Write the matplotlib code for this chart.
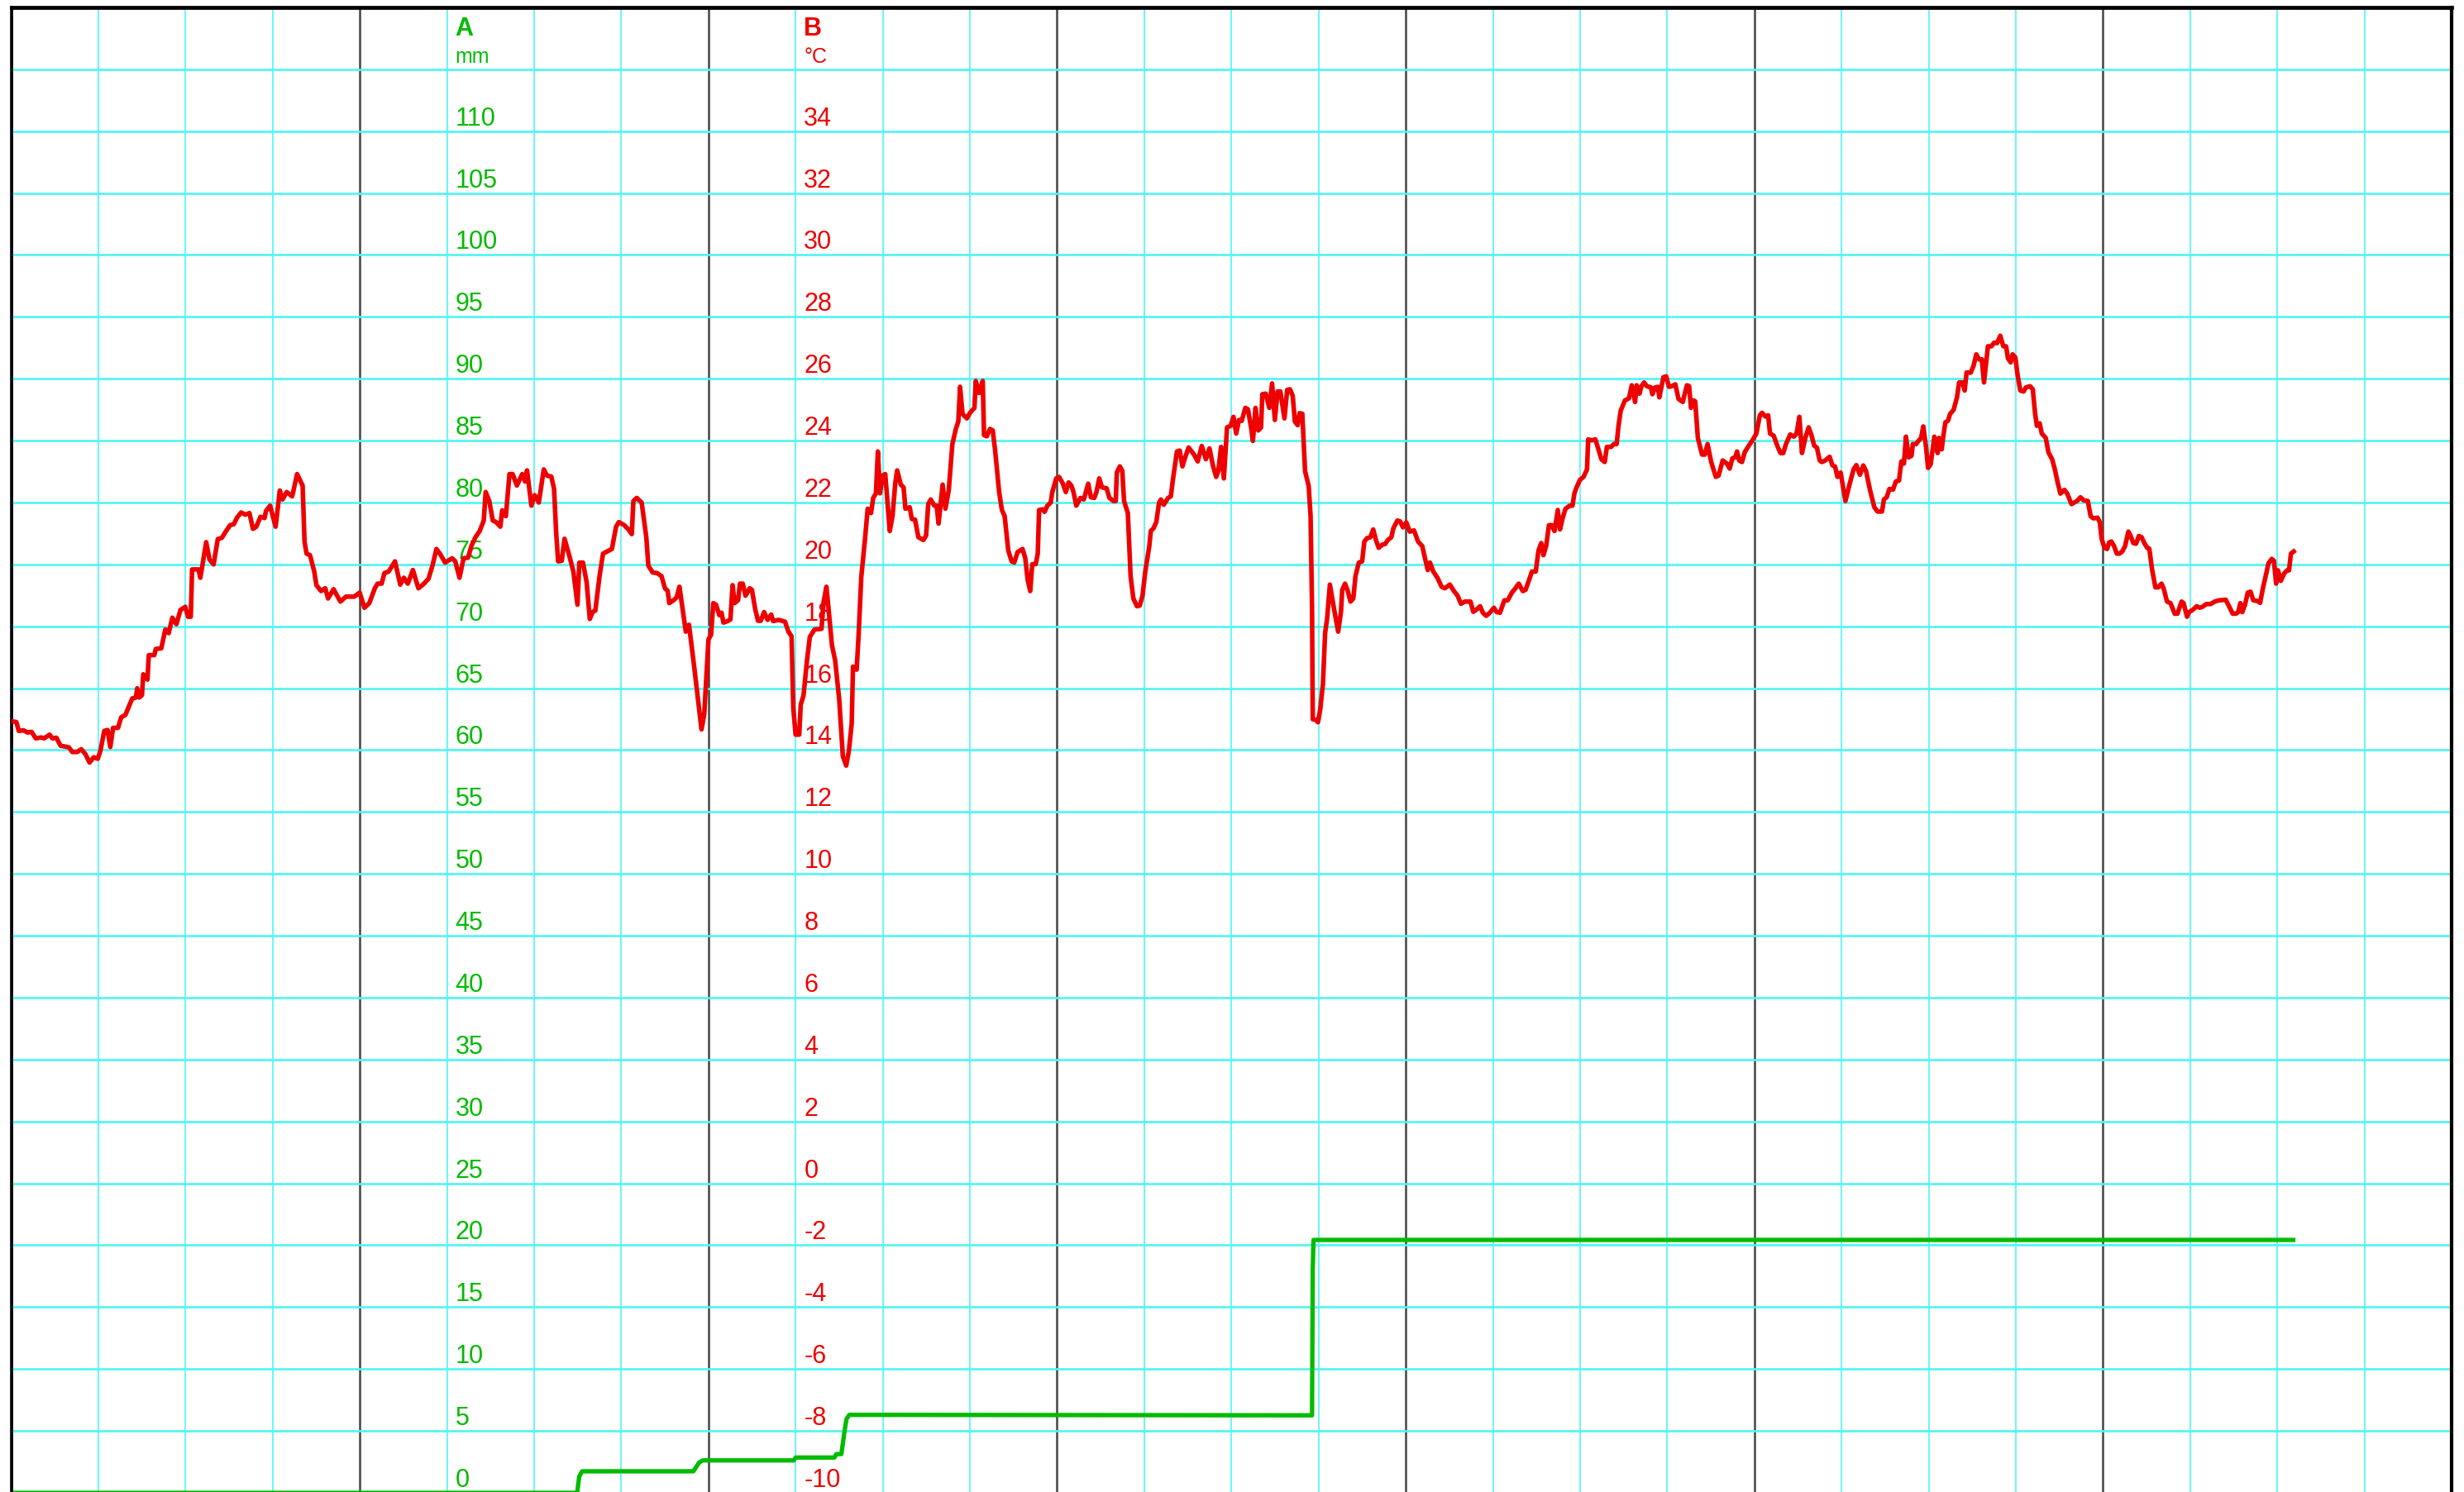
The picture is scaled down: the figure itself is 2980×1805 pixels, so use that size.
import matplotlib
matplotlib.use("Agg")
import matplotlib.pyplot as plt
from matplotlib.transforms import offset_copy

plt.rcParams['font.family'] = ['Liberation Sans', 'DejaVu Sans']

# time axis: hours over one week
week_hours = 168
day_ticks = list(range(0, 169, 24))
quarter_ticks = list(range(0, 169, 6))

# A: cumulative rain (mm), B: temperature (degC)
rain_ticks = list(range(0, 111, 5))
temp_ticks = list(range(-10, 35, 2))

# cumulative rain, (hour, mm)
rain = [(0.0, 0.0), (38.96, 0.0), (39.1, 1.3), (39.3, 1.74), (46.96, 1.74),
        (47.36, 2.45), (47.6, 2.62), (53.87, 2.62), (54.0, 2.85), (56.67, 2.85),
        (56.8, 3.13), (57.15, 3.13), (57.35, 4.85), (57.5, 5.96), (57.7, 6.3),
        (89.55, 6.26), (89.6, 18.03), (89.65, 20.43), (157.1, 20.43)]

# temperature, (hour, degC)
temp_d1 = [(0.05, 14.93), (0.35, 14.91), (0.52, 14.62), (0.84, 14.64), (1.12, 14.57), (1.4, 14.59),
           (1.69, 14.38), (2.07, 14.41), (2.26, 14.38), (2.64, 14.5), (2.83, 14.38), (3.11, 14.4),
           (3.4, 14.14), (3.78, 14.11), (3.97, 14.09), (4.2, 13.94), (4.54, 13.94), (4.82, 14.03),
           (5.11, 13.87), (5.39, 13.6), (5.68, 13.77), (5.96, 13.72), (6.15, 14.0), (6.4, 14.62),
           (6.63, 14.65), (6.82, 14.1), (7.01, 14.72), (7.35, 14.72), (7.57, 15.06), (7.86, 15.14),
           (8.33, 15.67), (8.58, 15.7), (8.67, 16.0), (8.81, 15.7), (9.0, 15.78), (9.09, 16.45),
           (9.38, 16.28), (9.47, 17.07), (9.85, 17.07), (9.95, 17.27), (10.33, 17.29), (10.61, 17.9),
           (10.84, 17.78), (11.09, 18.28), (11.37, 18.07), (11.65, 18.53), (11.98, 18.63), (12.17, 18.31),
           (12.36, 18.31), (12.45, 19.84), (12.89, 19.84), (13.02, 19.57), (13.42, 20.72), (13.65, 20.16),
           (13.93, 20.0), (14.22, 20.82), (14.5, 20.86), (14.79, 21.08), (15.07, 21.27), (15.32, 21.3),
           (15.54, 21.51), (15.83, 21.68), (16.11, 21.61), (16.4, 21.66), (16.64, 21.15), (16.87, 21.22),
           (17.16, 21.54), (17.44, 21.5), (17.54, 21.73), (17.82, 21.9), (18.2, 21.22), (18.49, 22.39),
           (18.68, 22.1), (18.96, 22.34), (19.34, 22.2), (19.68, 22.92), (20.06, 22.55), (20.19, 20.74),
           (20.33, 20.35), (20.57, 20.3), (20.86, 19.77), (21.01, 19.33), (21.33, 19.14), (21.62, 19.23),
           (21.81, 18.9), (22.19, 19.2), (22.66, 18.8), (23.04, 18.96), (23.61, 18.96), (23.99, 19.09),
           (24.31, 18.6), (24.65, 18.75), (25.03, 19.23), (25.22, 19.38), (25.5, 19.38), (25.69, 19.72),
           (25.98, 19.77), (26.42, 20.1)]
temp_d2 = [(26.78, 19.35), (27.03, 19.57), (27.3, 19.38), (27.65, 19.82), (28.03, 19.23), (28.35, 19.35),
           (28.73, 19.54), (29.02, 20.0), (29.27, 20.5), (29.55, 20.32), (29.87, 20.06), (30.35, 20.2),
           (30.57, 20.1), (30.86, 19.57), (31.14, 20.2), (31.45, 20.22), (31.68, 20.6), (31.96, 20.88),
           (32.25, 21.08), (32.53, 21.42), (32.66, 22.34), (32.91, 22.05), (33.15, 21.42), (33.38, 21.37),
           (33.67, 21.22), (33.8, 21.75), (34.05, 21.56), (34.3, 22.92), (34.52, 22.92), (34.81, 22.55),
           (35.18, 22.92), (35.37, 22.68), (35.51, 23.04), (35.81, 21.9), (36.04, 22.24), (36.32, 22.0),
           (36.66, 23.07), (36.89, 22.87), (37.18, 22.84), (37.37, 22.44), (37.52, 20.98), (37.65, 20.1),
           (37.9, 20.12), (38.09, 20.83), (38.41, 20.3), (38.7, 19.77), (38.98, 18.7), (39.11, 20.06),
           (39.36, 20.06), (39.61, 19.43), (39.83, 18.24), (40.02, 18.46), (40.21, 18.51), (40.5, 19.62),
           (40.74, 20.35), (41.07, 20.43), (41.35, 20.5), (41.64, 21.22), (41.83, 21.37), (42.2, 21.27),
           (42.49, 21.13), (42.72, 20.98), (42.83, 22.05), (43.06, 22.15), (43.4, 22.0), (43.72, 20.88),
           (43.86, 19.96), (44.16, 19.74), (44.48, 19.72), (44.77, 19.62), (45.0, 19.23), (45.19, 19.15),
           (45.3, 18.75), (45.62, 18.85), (45.81, 18.94), (46.0, 19.28), (46.19, 18.65), (46.44, 17.83),
           (46.66, 18.05), (47.04, 16.6), (47.52, 14.67), (47.71, 15.16), (48.0, 17.58), (48.18, 17.73),
           (48.33, 18.75), (48.52, 18.7), (48.75, 18.36), (48.9, 18.44), (49.03, 18.12), (49.32, 18.17),
           (49.51, 18.22), (49.66, 19.33), (49.8, 18.75), (50.04, 18.85), (50.17, 19.38), (50.36, 19.38),
           (50.55, 18.99), (50.84, 19.23), (50.99, 19.18), (51.22, 18.55), (51.41, 18.18), (51.6, 18.18),
           (51.83, 18.46), (52.07, 18.21), (52.32, 18.38), (52.45, 18.17), (52.83, 18.21), (53.27, 18.15),
           (53.5, 17.83), (53.72, 17.68), (53.84, 15.35), (54.0, 14.5)]
temp_d3 = [(54.25, 14.5), (54.35, 15.47), (54.54, 15.76), (54.79, 16.93), (54.98, 17.66), (55.3, 17.9),
           (55.78, 17.92), (55.93, 18.8), (56.12, 19.28), (56.25, 18.65), (56.5, 17.39), (56.72, 16.9),
           (57.0, 15.64), (57.25, 13.8), (57.48, 13.5), (57.67, 13.99), (57.86, 14.86), (57.95, 16.7),
           (58.2, 16.6), (58.33, 17.67), (58.52, 19.6), (58.77, 20.79), (58.96, 21.8), (59.19, 21.66),
           (59.34, 22.15), (59.53, 22.3), (59.66, 23.65), (59.81, 22.3), (59.98, 22.87), (60.17, 22.92),
           (60.48, 21.08), (60.67, 21.56), (60.86, 22.63), (60.99, 23.04), (61.24, 22.58), (61.43, 22.49),
           (61.56, 21.8), (61.85, 21.85), (62.0, 21.47), (62.22, 21.45), (62.45, 20.88), (62.79, 20.79),
           (62.98, 20.93), (63.13, 21.95), (63.3, 22.1), (63.55, 21.9), (63.71, 21.9), (63.84, 21.32),
           (64.12, 22.58), (64.31, 21.8), (64.54, 22.39), (64.79, 23.89), (65.03, 24.38), (65.2, 24.62),
           (65.32, 25.74), (65.49, 24.86), (65.79, 24.72), (66.02, 24.91), (66.31, 25.06), (66.4, 25.93),
           (66.63, 25.54), (66.88, 25.93), (66.97, 24.18), (67.16, 24.14), (67.38, 24.38), (67.57, 24.33),
           (67.73, 23.7), (68.01, 22.34), (68.2, 21.76), (68.39, 21.56), (68.64, 20.45), (68.87, 20.1),
           (69.05, 20.06), (69.28, 20.4), (69.62, 20.5), (69.81, 20.2), (69.97, 19.52), (70.15, 19.14),
           (70.29, 20.01), (70.53, 20.01), (70.67, 20.35), (70.76, 21.76), (70.99, 21.78), (71.14, 21.7),
           (71.33, 21.9), (71.56, 22.0), (71.67, 22.34), (71.94, 22.78), (72.13, 22.83), (72.38, 22.63),
           (72.6, 22.34), (72.79, 22.65), (72.98, 22.55), (73.13, 22.34), (73.32, 21.9), (73.61, 22.15),
           (73.84, 22.1), (74.14, 22.61), (74.33, 22.17), (74.56, 22.15), (74.71, 22.34), (74.9, 22.78),
           (75.09, 22.49), (75.41, 22.46), (75.6, 22.15), (75.88, 22.05), (76.04, 22.05), (76.11, 22.97),
           (76.32, 23.17), (76.49, 23.02), (76.61, 22.05), (76.87, 21.66), (77.06, 19.62), (77.25, 18.9),
           (77.5, 18.65), (77.69, 18.67), (77.88, 18.99), (78.07, 19.77), (78.35, 20.6), (78.45, 21.08),
           (78.64, 21.17), (78.83, 21.37), (79.02, 22.0), (79.15, 22.1), (79.34, 21.93), (79.64, 22.15),
           (79.83, 22.2), (79.97, 22.73), (80.25, 23.65), (80.44, 23.68), (80.63, 23.17), (80.82, 23.46),
           (81.05, 23.78)]
temp_d4 = [(81.43, 23.55), (81.68, 23.33), (81.96, 23.83), (82.24, 23.4), (82.49, 23.75), (82.72, 23.21),
           (82.95, 22.83), (83.1, 23.02), (83.29, 23.8), (83.48, 22.78), (83.7, 24.43), (83.95, 24.48),
           (84.14, 24.77), (84.33, 24.23), (84.52, 24.67), (84.71, 24.64), (84.96, 25.06), (85.14, 25.01),
           (85.37, 24.38), (85.48, 23.99), (85.66, 25.06), (85.85, 24.33), (86.04, 24.43), (86.13, 25.5),
           (86.36, 25.52), (86.61, 25.06), (86.8, 25.85), (86.99, 24.67), (87.18, 25.59), (87.37, 25.59),
           (87.65, 24.72), (87.84, 25.64), (88.03, 25.66), (88.22, 25.45), (88.37, 24.62), (88.56, 24.5),
           (88.69, 24.89), (88.88, 24.87), (89.07, 23.02), (89.32, 22.53), (89.45, 21.56), (89.55, 18.65),
           (89.6, 15.0), (89.83, 14.97), (89.96, 14.9), (90.11, 15.3), (90.3, 16.13), (90.45, 17.78),
           (90.59, 18.26), (90.78, 19.35), (91.07, 18.55), (91.35, 17.83), (91.54, 18.46), (91.63, 19.18),
           (91.82, 19.38), (92.01, 19.14), (92.2, 18.8), (92.39, 18.9), (92.54, 19.62), (92.77, 20.06),
           (93.0, 20.1), (93.15, 20.74), (93.34, 20.85), (93.57, 20.88), (93.76, 21.13), (93.95, 20.79),
           (94.14, 20.54), (94.39, 20.64), (94.58, 20.66), (94.77, 20.79), (95.01, 20.88), (95.15, 21.17),
           (95.43, 21.42), (95.62, 21.39), (95.81, 21.2), (96.04, 21.36), (96.28, 21.06), (96.57, 21.1),
           (96.85, 20.74), (97.14, 20.59), (97.42, 20.01), (97.52, 19.82), (97.67, 20.06), (97.9, 19.77),
           (98.18, 19.57), (98.47, 19.28), (98.69, 19.23), (99.04, 19.35), (99.32, 19.14), (99.57, 18.99),
           (99.8, 18.73), (100.08, 18.8), (100.46, 18.8), (100.65, 18.47), (100.84, 18.53), (101.12, 18.65),
           (101.31, 18.44), (101.54, 18.34), (101.79, 18.44), (102.07, 18.6), (102.26, 18.46), (102.49, 18.44),
           (102.79, 18.84), (103.02, 18.84), (103.31, 19.09), (103.55, 19.23), (103.78, 19.38), (104.06, 19.14),
           (104.25, 19.18), (104.44, 19.43), (104.69, 19.77), (104.95, 19.77), (105.14, 20.45), (105.33, 20.69),
           (105.48, 20.3), (105.67, 20.6), (105.86, 21.27), (106.05, 21.27), (106.24, 21.08), (106.47, 21.76),
           (106.62, 21.13), (106.81, 21.51), (107.0, 21.8), (107.29, 21.9), (107.48, 21.9), (107.61, 22.29),
           (107.76, 22.49), (107.99, 22.73), (108.24, 22.83), (108.48, 23.07), (108.56, 24.04), (108.81, 24.01),
           (109.06, 24.04), (109.28, 23.7)]
temp_d5 = [(109.47, 23.4), (109.7, 23.31), (109.85, 23.8), (110.14, 23.8), (110.33, 23.89), (110.52, 23.89),
           (110.65, 24.48), (110.8, 24.97), (111.09, 25.3), (111.37, 25.37), (111.56, 25.79), (111.79, 25.25),
           (111.9, 25.79), (112.09, 25.52), (112.23, 25.76), (112.41, 25.88), (112.6, 25.76), (112.89, 25.72),
           (112.98, 25.5), (113.17, 25.72), (113.36, 25.74), (113.46, 25.4), (113.74, 26.05), (113.93, 26.08),
           (114.12, 25.74), (114.31, 25.76), (114.56, 25.82), (114.78, 25.35), (115.07, 25.25), (115.36, 25.79),
           (115.51, 25.76), (115.64, 25.06), (115.83, 25.3), (115.93, 25.27), (116.11, 24.09), (116.4, 23.55),
           (116.59, 23.55), (116.78, 23.89), (117.03, 23.31), (117.35, 22.83), (117.54, 22.87), (117.82, 23.36),
           (118.11, 23.26), (118.3, 23.1), (118.49, 23.43), (118.68, 23.46), (118.81, 23.65), (118.96, 23.36),
           (119.15, 23.31), (119.34, 23.63), (119.62, 23.84), (119.91, 24.04), (120.14, 24.23), (120.38, 24.82),
           (120.53, 24.9), (120.76, 24.78), (120.95, 24.82), (121.08, 24.23), (121.33, 24.16), (121.61, 23.8),
           (121.8, 23.6), (121.99, 23.6), (122.18, 23.89), (122.47, 24.2), (122.72, 24.13), (122.91, 24.23),
           (123.1, 24.77), (123.28, 23.6), (123.51, 24.09), (123.74, 24.43), (123.93, 24.18), (124.12, 23.84),
           (124.31, 23.77), (124.5, 23.36), (124.65, 23.31), (124.88, 23.36), (125.18, 23.48), (125.37, 23.21),
           (125.56, 23.16), (125.72, 22.83), (125.94, 22.97), (126.27, 22.05), (126.55, 22.58), (126.83, 23.07),
           (127.02, 23.21), (127.27, 22.9), (127.5, 23.2), (127.69, 23.02), (127.97, 22.39), (128.26, 21.85),
           (128.48, 21.71), (128.79, 21.71), (128.92, 22.1), (129.11, 22.17), (129.3, 22.44), (129.55, 22.42),
           (129.74, 22.68), (129.96, 22.71), (130.12, 23.33), (130.3, 23.26), (130.44, 24.13), (130.63, 23.46),
           (130.82, 23.51), (130.91, 23.89), (131.14, 23.89), (131.29, 23.99), (131.48, 24.09), (131.63, 24.46),
           (131.82, 23.8), (131.96, 23.12), (132.14, 23.24), (132.39, 24.13), (132.62, 23.6), (132.71, 24.09),
           (132.9, 23.72), (133.0, 24.11), (133.15, 24.59), (133.34, 24.65), (133.47, 24.86), (133.72, 25.0),
           (133.95, 25.4), (134.1, 25.88), (134.33, 25.88), (134.48, 25.62), (134.61, 26.2), (134.9, 26.2),
           (135.09, 26.42), (135.28, 26.79), (135.47, 26.63), (135.66, 26.63), (135.81, 25.88)]
temp_d6 = [(136.08, 27.05), (136.32, 27.05), (136.51, 27.17), (136.7, 27.15), (136.93, 27.39), (137.14, 27.05),
           (137.33, 27.05), (137.46, 26.66), (137.65, 26.53), (137.78, 26.79), (137.97, 26.69), (138.12, 26.13),
           (138.31, 25.62), (138.54, 25.59), (138.69, 25.72), (138.98, 25.76), (139.17, 25.66), (139.32, 24.91),
           (139.45, 24.48), (139.64, 24.56), (139.79, 24.23), (140.06, 24.09), (140.25, 23.62), (140.5, 23.4),
           (140.69, 23.07), (140.88, 22.65), (141.07, 22.29), (141.35, 22.41), (141.54, 22.29), (141.83, 21.95),
           (142.02, 22.0), (142.21, 22.05), (142.45, 22.17), (142.68, 22.07), (142.96, 22.05), (143.15, 21.56),
           (143.34, 21.49), (143.63, 21.51), (143.78, 21.37), (143.91, 20.83), (144.1, 20.54), (144.29, 20.5),
           (144.42, 20.71), (144.58, 20.74), (144.77, 20.59), (144.95, 20.35), (145.14, 20.35), (145.33, 20.42),
           (145.52, 20.59), (145.75, 21.06), (145.9, 20.93), (146.09, 20.69), (146.28, 20.67), (146.47, 20.92),
           (146.66, 20.88), (146.85, 20.69), (147.04, 20.54), (147.19, 20.51), (147.38, 19.84), (147.61, 19.26),
           (147.8, 19.26), (148.03, 19.38), (148.18, 19.22), (148.41, 18.8), (148.65, 18.75), (148.94, 18.41),
           (149.13, 18.41), (149.41, 18.8), (149.55, 18.75), (149.79, 18.31), (149.93, 18.46), (150.17, 18.53),
           (150.46, 18.65), (150.65, 18.6), (150.84, 18.63), (151.12, 18.72), (151.41, 18.72), (151.69, 18.8),
           (151.98, 18.84), (152.45, 18.86), (152.7, 18.63), (152.93, 18.41), (153.16, 18.41), (153.31, 18.46),
           (153.46, 18.75), (153.59, 18.46), (153.78, 18.7), (153.97, 19.09), (154.16, 19.12), (154.35, 18.84),
           (154.63, 18.82), (154.82, 18.76), (155.01, 19.23), (155.2, 19.62), (155.39, 20.03), (155.62, 20.18),
           (155.77, 20.12), (155.92, 19.38), (156.05, 19.81), (156.24, 19.47), (156.49, 19.72), (156.68, 19.81),
           (156.81, 19.81), (156.94, 20.35), (157.13, 20.42)]

green = '#00BB00'
red = '#EE0000'
cyan = '#4FF5F5'

temp = temp_d1 + temp_d2 + temp_d3 + temp_d4 + temp_d5 + temp_d6
t_hours, t_vals = zip(*temp)
r_hours, r_vals = zip(*rain)

fig = plt.figure(figsize=(29.8, 18.05), dpi=100)
ax = fig.add_axes([0.00456, -0.00055, 0.9904, 0.99557])
ax.set_xlim(0, week_hours)
ax.set_ylim(0, 120)

# grid: quarter-day cyan lines, day lines dark, horizontal cyan every 5 mm
ax.set_xticks(day_ticks)
ax.set_xticks(quarter_ticks, minor=True)
ax.set_yticks(list(range(0, 121, 5)))
ax.grid(which='minor', axis='x', color=cyan, lw=1.2)
ax.grid(which='major', axis='x', color='#444444', lw=1.8)
ax.grid(which='major', axis='y', color=cyan, lw=1.9)
ax.set_axisbelow(True)
ax.tick_params(which='both', length=0, labelbottom=False, labelleft=False)

ax.spines['top'].set_linewidth(3.4)
ax.spines['left'].set_linewidth(2.6)
ax.spines['right'].set_linewidth(3.0)
ax.spines['bottom'].set_visible(False)

# labels inside the plot, just above each gridline
lab_tr = offset_copy(ax.transData, fig=fig, x=10, y=7, units='dots')
for v in rain_ticks:
    ax.text(30, v, str(v), transform=lab_tr, color=green, fontsize=22,
            ha='left', va='baseline', zorder=1.5)
for b in temp_ticks:
    ax.text(54, (b + 10) * 2.5, str(b), transform=lab_tr, color=red, fontsize=22,
            ha='left', va='baseline', zorder=1.5)

head_tr = offset_copy(ax.transData, fig=fig, x=10, y=41, units='dots')
unit_tr = offset_copy(ax.transData, fig=fig, x=10, y=8, units='dots')
ax.text(30, 115, 'A', transform=head_tr, color=green, fontsize=22, fontweight='bold', va='baseline')
ax.text(30, 115, 'mm', transform=unit_tr, color=green, fontsize=18, va='baseline')
ax.text(54, 115, 'B', transform=head_tr, color=red, fontsize=22, fontweight='bold', va='baseline')
ax.text(54, 115, '°C', transform=unit_tr, color=red, fontsize=18, va='baseline')

ax.plot(r_hours, r_vals, color=green, lw=3.8, zorder=2)

ax2 = ax.twinx()
ax2.set_ylim(-10, 38)
ax2.set_xlim(0, week_hours)
ax2.tick_params(which='both', length=0, labelright=False)
for s in ax2.spines.values():
    s.set_visible(False)
ax2.plot(t_hours, t_vals, color=red, lw=4.0)

fig.savefig('out.png', dpi=100, facecolor='white')
